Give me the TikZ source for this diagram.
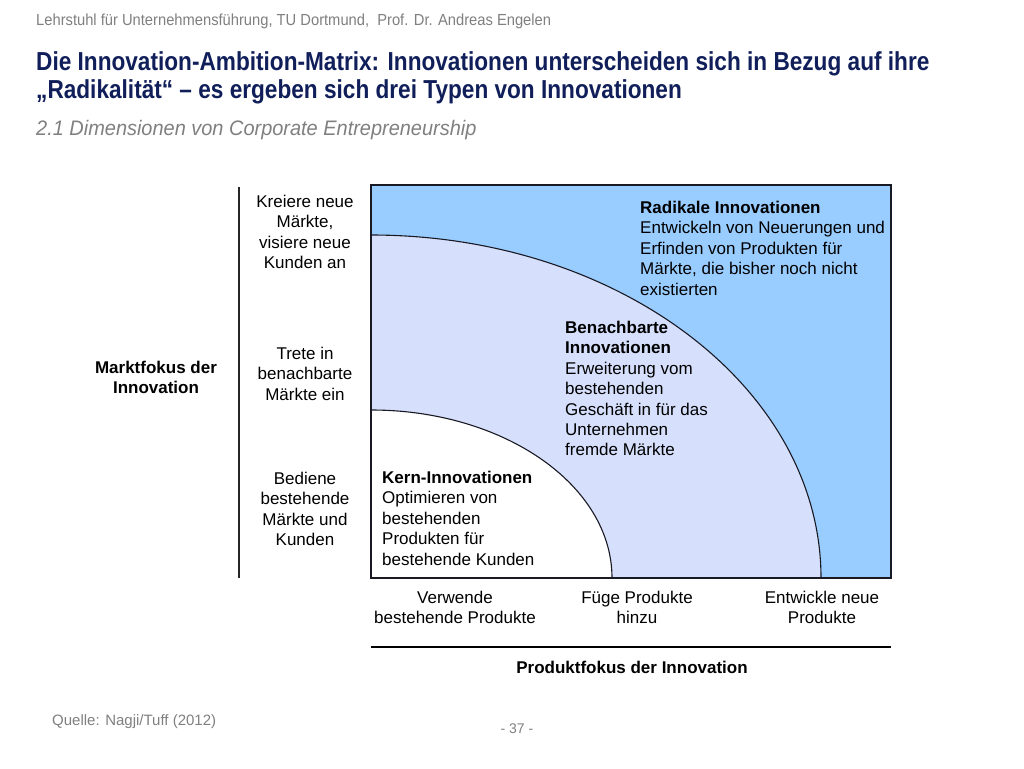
\documentclass[tikz,border=0pt]{standalone}
\usepackage{fontspec}
\setmainfont{Liberation Sans}
\newfontfamily\condfont[FakeStretch=0.87]{Liberation Sans}
\newfontfamily\hdrfont[FakeStretch=0.92]{Liberation Sans}
\newfontfamily\subfont[FakeStretch=0.95]{Liberation Sans}
\definecolor{radblue}{RGB}{153,204,255}
\definecolor{adjblue}{RGB}{214,224,252}
\definecolor{titlenavy}{RGB}{16,30,90}
\definecolor{greytext}{RGB}{128,128,128}
\definecolor{edge}{RGB}{25,25,35}
\tikzset{
  body/.style={inner sep=0pt, font=\fontsize{17}{20.4}\selectfont, text=black},
  bodyl/.style={body, anchor=north west, align=left},
  bodyc/.style={body, anchor=north, align=center},
  axisline/.style={line width=1.3pt, draw=black!85},
  arcline/.style={line width=1.1pt, draw=edge}
}
\begin{document}
\begin{tikzpicture}[x=1pt,y=-1pt]
\useasboundingbox (0,0) rectangle (1024,768);
\fill[white] (0,0) rectangle (1024,768);

% header and titles
\node[inner sep=0pt, anchor=base west, text=greytext, font=\hdrfont\fontsize{16}{19}\selectfont] (hdr) at (36,25.5) {Lehrstuhl für Unternehmensführung, TU Dortmund,\ \ Prof. Dr. Andreas Engelen};
\node[inner sep=0pt, anchor=north west, align=left, text=titlenavy, font=\condfont\bfseries\fontsize{26}{28}\selectfont] (title) at (36,50.5) {\strut Die Innovation-Ambition-Matrix: Innovationen unterscheiden sich in Bezug auf ihre\\„Radikalität“ – es ergeben sich drei Typen von Innovationen};
\node[inner sep=0pt, anchor=base west, text=greytext, font=\subfont\itshape\fontsize{21}{24}\selectfont] (sub) at (36,135) {2.1 Dimensionen von Corporate Entrepreneurship};

% matrix areas
\coordinate (bl) at (371,578);
\coordinate (tr) at (891,185);
\fill[radblue] (bl) rectangle (tr);
\fill[adjblue] (371,578) -- (371,235) arc[start angle=-90, end angle=0, x radius=450, y radius=343] -- cycle;
\fill[white] (371,578) -- (371,410) arc[start angle=-90, end angle=0, x radius=241, y radius=168] -- cycle;
\draw[arcline] (371,235) arc[start angle=-90, end angle=0, x radius=450, y radius=343];
\draw[arcline] (371,410) arc[start angle=-90, end angle=0, x radius=241, y radius=168];
\draw[arcline] (bl) rectangle (tr);

% axes
\coordinate (vtop) at (239,187);
\coordinate (vbot) at (239,578);
\draw[axisline] (vtop) -- (vbot);
\coordinate (hl) at (371,647);
\coordinate (hr) at (891,647);
\draw[axisline, draw=black] (hl) -- (hr);

% left labels
\node[bodyc] (m3) at (305,193) {\strut Kreiere neue\\Märkte,\\visiere neue\\Kunden an};
\node[bodyc] (m2) at (305,345) {\strut Trete in\\benachbarte\\Märkte ein};
\node[bodyc] (m1) at (305,470) {\strut Bediene\\bestehende\\Märkte und\\Kunden};
\node[bodyc, font=\bfseries\fontsize{17}{20}\selectfont] (mf) at (156,359) {\strut Marktfokus der\\Innovation};

% inner texts
\node[bodyl] (rad) at (640,199) {\strut\textbf{Radikale Innovationen}\\Entwickeln von Neuerungen und\\Erfinden von Produkten für\\Märkte, die bisher noch nicht\\existierten};
\node[bodyl] (adj) at (565,319) {\strut\textbf{Benachbarte}\\\textbf{Innovationen}\\Erweiterung vom\\bestehenden\\Geschäft in für das\\Unternehmen\\fremde Märkte};
\node[bodyl] (core) at (382,469) {\strut\textbf{Kern-Innovationen}\\Optimieren von\\bestehenden\\Produkten für\\bestehende Kunden};

% bottom labels
\node[bodyc] (p1) at (455,589) {\strut Verwende\\bestehende Produkte};
\node[bodyc] (p2) at (637,589) {\strut Füge Produkte\\hinzu};
\node[bodyc] (p3) at (822,589) {\strut Entwickle neue\\Produkte};
\node[bodyc, font=\bfseries\fontsize{17}{20}\selectfont] (pf) at (632,659) {\strut Produktfokus der Innovation};

% footer
\node[inner sep=0pt, anchor=base west, text=greytext, font=\fontsize{15}{18}\selectfont] (src) at (52,725) {Quelle: Nagji/Tuff (2012)};
\node[inner sep=0pt, anchor=base, text=greytext, font=\fontsize{14}{17}\selectfont] (pg) at (517,733) {- 37 -};
\end{tikzpicture}
\end{document}
